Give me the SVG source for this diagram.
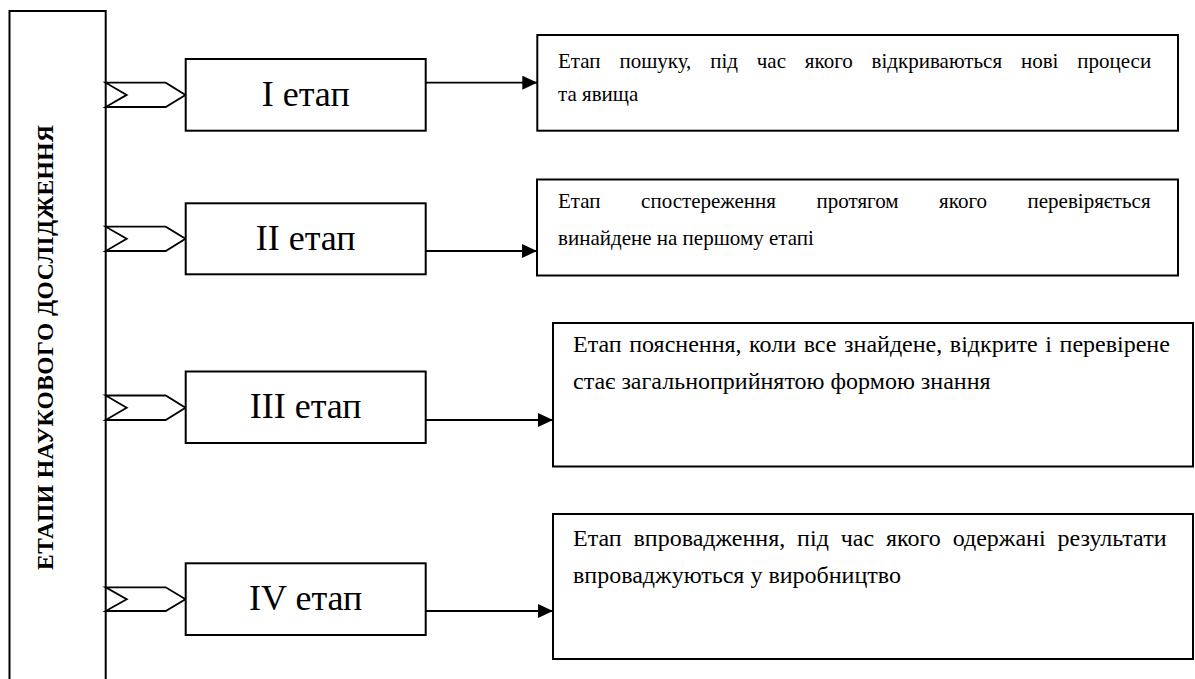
<svg xmlns="http://www.w3.org/2000/svg" width="1195" height="679" viewBox="0 0 1195 679">
  <style>
    .frame { fill: #ffffff; stroke: #000000; stroke-width: 2; }
    .chev { fill: #ffffff; stroke: #000000; stroke-width: 1.8; stroke-linejoin: miter; }
    .link { fill: none; stroke: #000000; stroke-width: 1.8; }
    text { font-family: "Liberation Serif", "Times New Roman", serif; fill: #000000; }
    .stage { font-size: 36px; text-anchor: middle; }
    .desc { font-size: 21px; }
    .descL { font-size: 24px; }
    .title { font-size: 23.5px; font-weight: bold; text-anchor: middle; }
  </style>
  <defs>
    <marker id="arrow" markerWidth="15" markerHeight="14" refX="15" refY="7" orient="auto" markerUnits="userSpaceOnUse">
      <path d="M0,0 L15,7 L0,14 Z" fill="#000000"/>
    </marker>
  </defs>
  <rect width="1195" height="679" fill="#ffffff"/>

  <!-- vertical title column -->
  <g id="title">
    <rect class="frame" x="9.5" y="11" width="96.2" height="690"/>
    <text class="title" transform="translate(53 347.5) rotate(-90)" textLength="445" lengthAdjust="spacing">ЕТАПИ НАУКОВОГО ДОСЛІДЖЕННЯ</text>
  </g>

  <!-- connectors: chevrons from the column and arrows to the descriptions -->
  <g id="connectors">
    <polygon class="chev" points="105.7,82.7 165.7,82.7 185.5,94.9 165.7,107 105.7,107 126.7,94.9"/>
    <polygon class="chev" points="105.7,226.7 165.7,226.7 185.5,238.8 165.7,251 105.7,251 126.7,238.8"/>
    <polygon class="chev" points="105.7,395.5 165.7,395.5 185.5,407.7 165.7,420 105.7,420 126.7,407.7"/>
    <polygon class="chev" points="105.7,587.3 165.7,587.3 185.5,599.2 165.7,611 105.7,611 126.7,599.2"/>
    <line class="link" x1="425.7" y1="82.7" x2="537.3" y2="82.7" marker-end="url(#arrow)"/>
    <line class="link" x1="425.7" y1="251" x2="537" y2="251" marker-end="url(#arrow)"/>
    <line class="link" x1="425.7" y1="420" x2="553" y2="420" marker-end="url(#arrow)"/>
    <line class="link" x1="425.7" y1="611" x2="553" y2="611" marker-end="url(#arrow)"/>
  </g>

  <!-- stage boxes -->
  <g id="stage1">
    <rect class="frame" x="185.7" y="59" width="240" height="71.7"/>
    <text class="stage" x="305.7" y="105.9">I етап</text>
  </g>
  <g id="stage2">
    <rect class="frame" x="185.7" y="203.3" width="240" height="71"/>
    <text class="stage" x="305.7" y="249.8">II етап</text>
  </g>
  <g id="stage3">
    <rect class="frame" x="185.7" y="371.5" width="240" height="71.5"/>
    <text class="stage" x="305.7" y="418.3">III етап</text>
  </g>
  <g id="stage4">
    <rect class="frame" x="185.7" y="563.3" width="240" height="71.7"/>
    <text class="stage" x="305.7" y="610.2">IV етап</text>
  </g>

  <!-- description boxes -->
  <g id="desc1">
    <rect class="frame" x="537.3" y="35" width="640.7" height="95.7"/>
    <text class="desc" x="558" y="68" word-spacing="13.6">Етап пошуку, під час якого відкриваються нові процеси</text>
    <text class="desc" x="558" y="101">та явища</text>
  </g>
  <g id="desc2">
    <rect class="frame" x="537" y="179.5" width="641" height="96"/>
    <text class="desc" x="558" y="208" word-spacing="35.3">Етап спостереження протягом якого перевіряється</text>
    <text class="desc" x="558" y="245">винайдене на першому етапі</text>
  </g>
  <g id="desc3">
    <rect class="frame" x="553" y="323" width="640" height="143.5"/>
    <text class="descL" x="573" y="352" word-spacing="1.6">Етап пояснення, коли все знайдене, відкрите і перевірене</text>
    <text class="descL" x="573" y="389">стає загальноприйнятою формою знання</text>
  </g>
  <g id="desc4">
    <rect class="frame" x="553" y="514" width="640" height="145"/>
    <text class="descL" x="573" y="546" word-spacing="5.9">Етап впровадження, під час якого одержані результати</text>
    <text class="descL" x="573" y="583">впроваджуються у виробництво</text>
  </g>
</svg>
